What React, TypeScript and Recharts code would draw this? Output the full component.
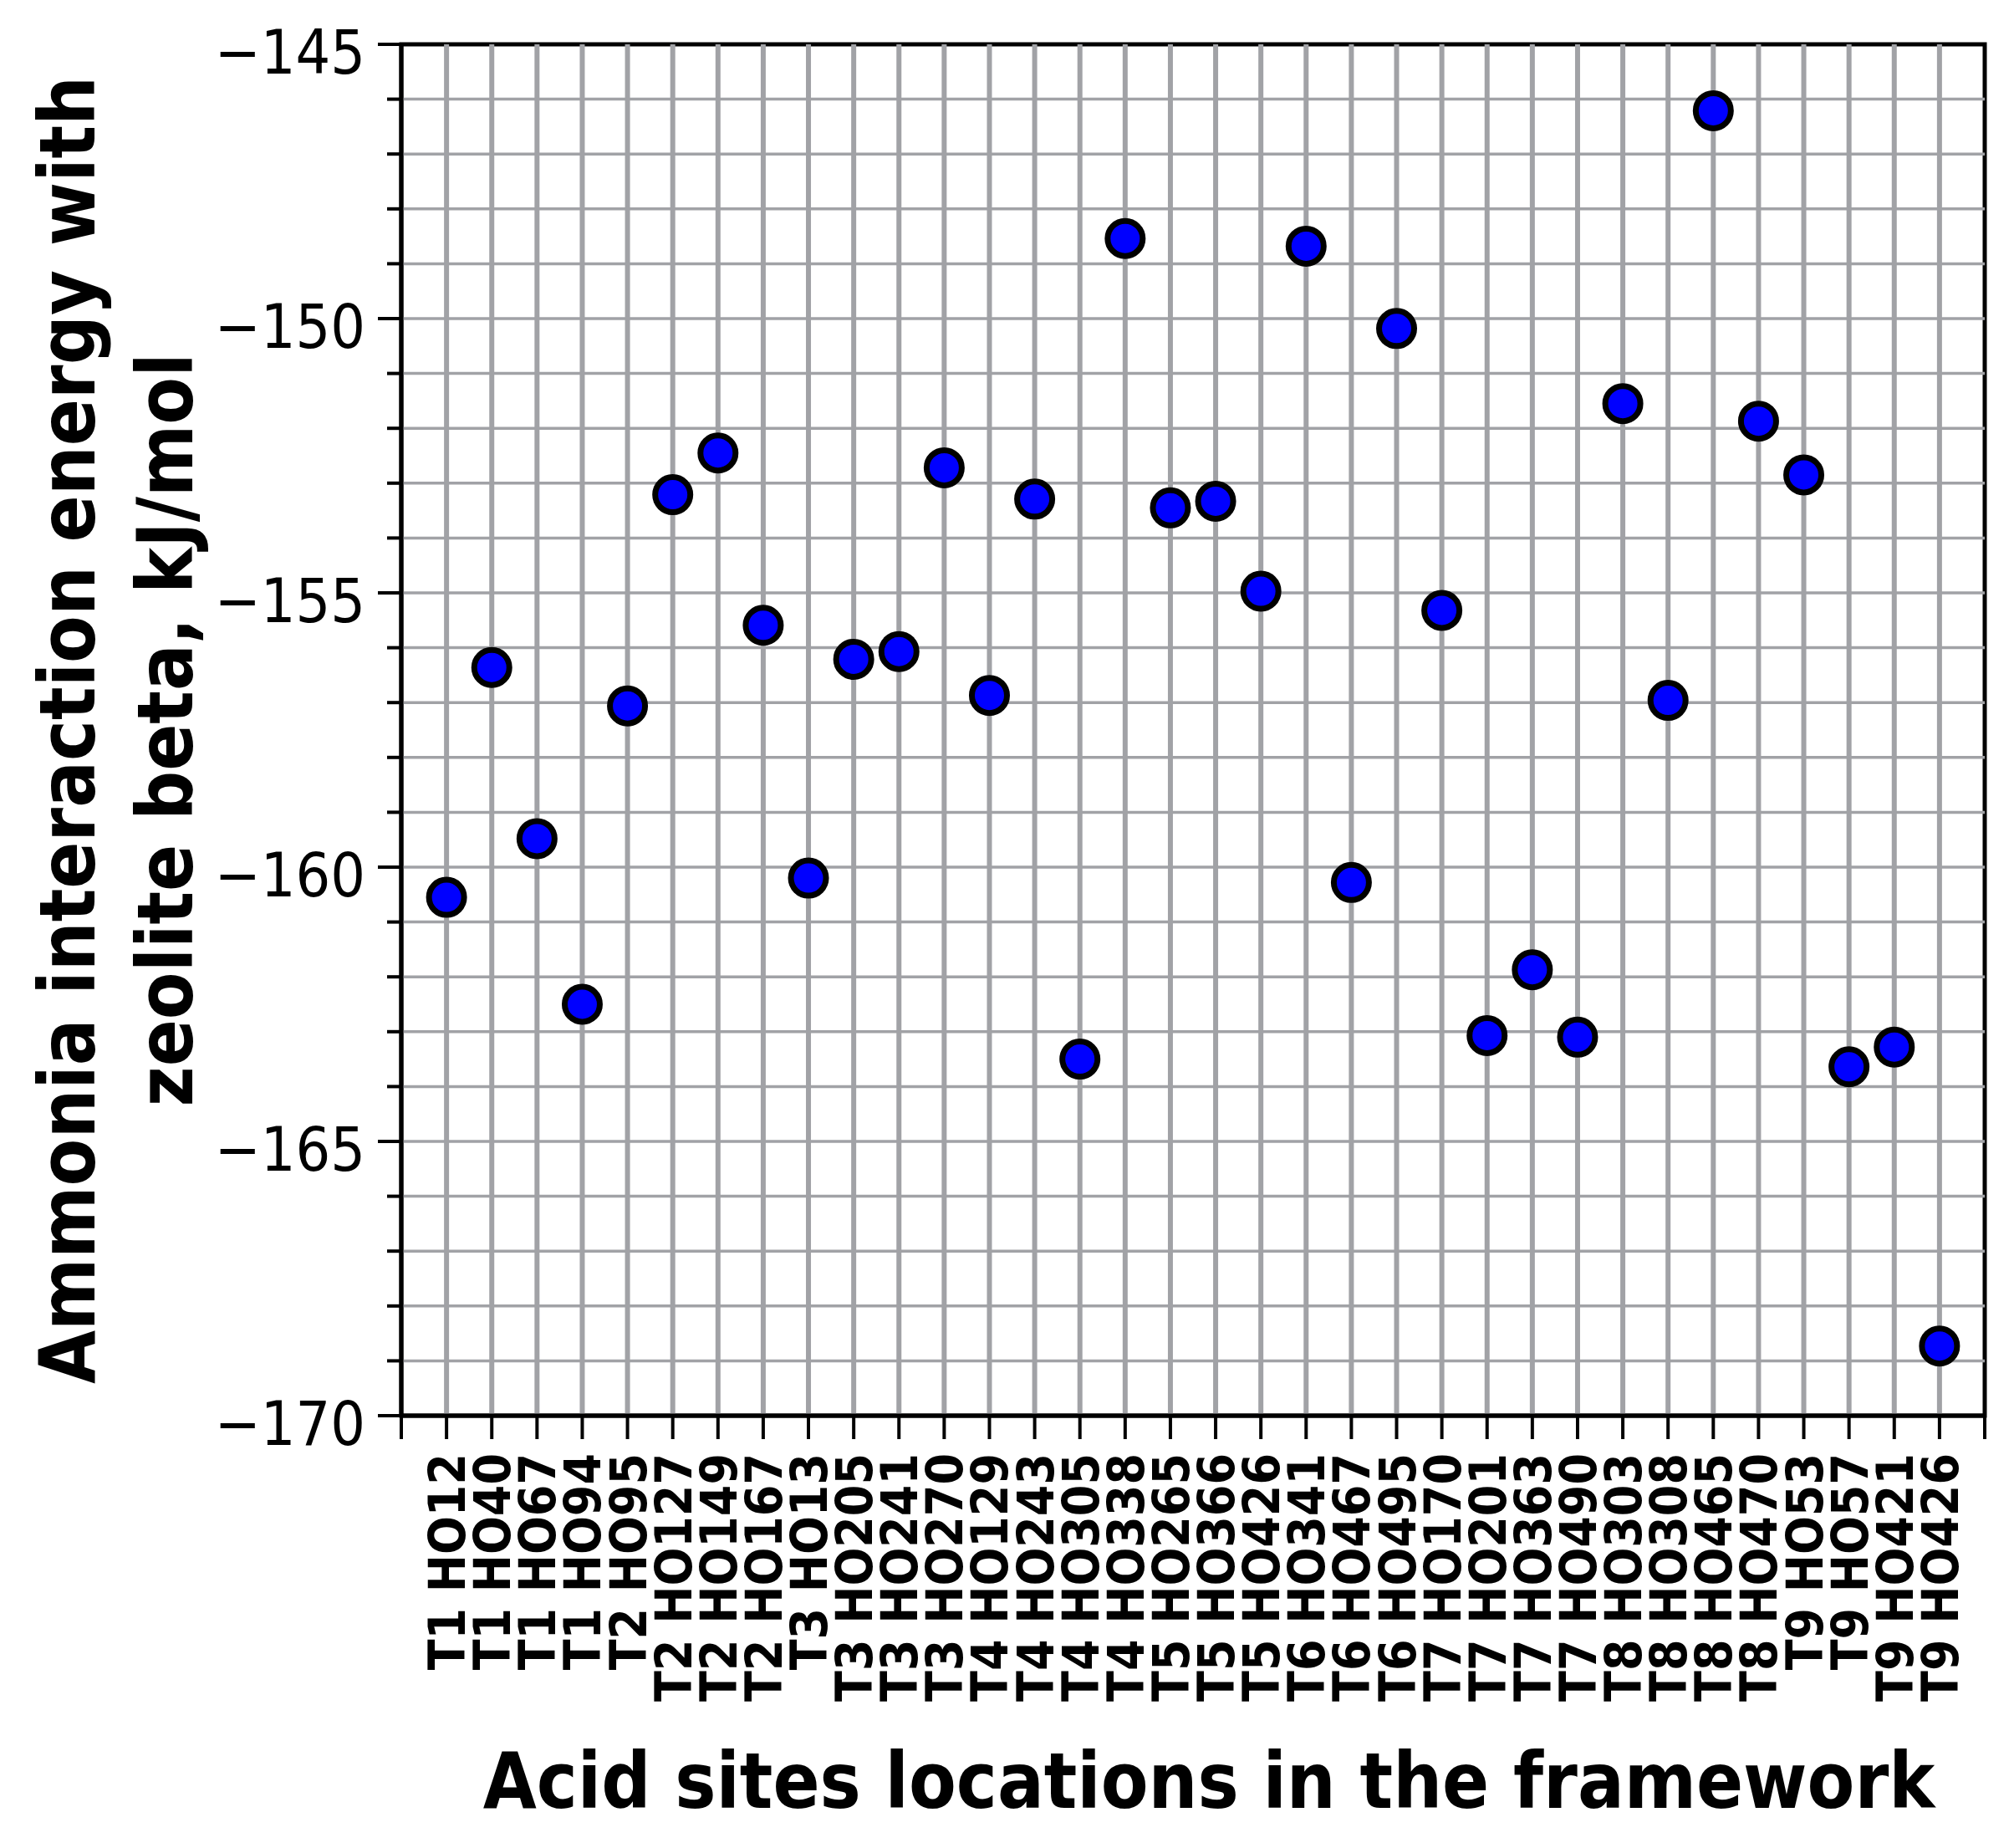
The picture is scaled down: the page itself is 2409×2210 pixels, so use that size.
import { ReferenceArea, ReferenceLine, Scatter, ScatterChart, XAxis, YAxis } from "recharts";

const sites = [
  "T1 HO12", "T1 HO40", "T1 HO67", "T1 HO94",
  "T2 HO95", "T2 HO127", "T2 HO149", "T2 HO167",
  "T3 HO13", "T3 HO205", "T3 HO241", "T3 HO270",
  "T4 HO129", "T4 HO243", "T4 HO305", "T4 HO338",
  "T5 HO265", "T5 HO366", "T5 HO426",
  "T6 HO341", "T6 HO467", "T6 HO495",
  "T7 HO170", "T7 HO201", "T7 HO363", "T7 HO490",
  "T8 HO303", "T8 HO308", "T8 HO465", "T8 HO470",
  "T9 HO53", "T9 HO57", "T9 HO421", "T9 HO426",
];

const energies = [
  -160.55, -156.36, -159.48, -162.5,
  -157.06, -153.21, -152.45, -155.59,
  -160.2, -156.21, -156.07, -152.72,
  -156.87, -153.29, -163.5, -148.54,
  -153.45, -153.33, -154.97,
  -148.68, -160.28, -150.18,
  -155.32, -163.07, -161.87, -163.1,
  -151.55, -156.96, -146.21, -151.87,
  -152.85, -163.64, -163.28, -168.73,
];

const yMin = -170;
const yMax = -145;
const yTicks = Array.from({ length: yMax - yMin + 1 }, (_, i) => yMin + i);
const xTicks = Array.from({ length: sites.length + 2 }, (_, i) => i);

const FONT = "'DejaVu Sans Condensed', 'DejaVu Sans', sans-serif";
const GRID = "#a1a2a6";

const data = sites.map((site, i) => ({ x: i + 1, y: energies[i], site }));

function XTick({ x, y, payload }: any) {
  const i = payload.value;
  const label = sites[i - 1];
  return (
    <g>
      <line x1={x} x2={x} y1={y} y2={y + 28} stroke="#000" strokeWidth={4} />
      {label ? (
        <text
          x={x + 22}
          y={y + 45}
          transform={`rotate(-90, ${x + 22}, ${y + 45})`}
          textAnchor="end"
          fontFamily={FONT}
          fontWeight="bold"
          fontSize={60}
          fill="#000"
        >
          {label}
        </text>
      ) : null}
    </g>
  );
}

function YTick({ x, y, payload }: any) {
  const v = payload.value;
  const major = v % 5 === 0;
  return (
    <g>
      <line x1={x - (major ? 28 : 17)} x2={x} y1={y} y2={y} stroke="#000" strokeWidth={4} />
      {major ? (
        <text x={x - 43} y={y + 35} textAnchor="end" fontFamily={FONT} fontSize={73} fill="#000">
          {"\u2212" + Math.abs(v)}
        </text>
      ) : null}
    </g>
  );
}

function YTitle({ viewBox }: any) {
  const cy = viewBox && viewBox.height ? viewBox.y + viewBox.height / 2 : 873;
  return (
    <g fontFamily={FONT} fontWeight="bold" fontSize={92} fill="#000">
      <text x={113} y={cy} transform={`rotate(-90, 113, ${cy})`} textAnchor="middle">
        Ammonia interaction energy with
      </text>
      <text x={230} y={cy} transform={`rotate(-90, 230, ${cy})`} textAnchor="middle">
        zeolite beta, kJ/mol
      </text>
    </g>
  );
}

function XTitle({ viewBox }: any) {
  const cx = viewBox && viewBox.width ? viewBox.x + viewBox.width / 2 + 19 : 1446;
  return (
    <text x={cx} y={2162} textAnchor="middle" fontFamily={FONT} fontWeight="bold" fontSize={92} fill="#000">
      Acid sites locations in the framework
    </text>
  );
}

function Dot({ cx, cy }: any) {
  return <circle cx={cx} cy={cy} r={21} fill="#0000ff" stroke="#000" strokeWidth={7} />;
}

export default function App() {
  return (
    <div style={{ position: "absolute", left: 0, top: 0, width: 2409, height: 2210, background: "#fff" }}>
      <ScatterChart width={2409} height={2210} margin={{ top: 53, right: 35, bottom: 117, left: 280 }}>
        <XAxis
          type="number"
          dataKey="x"
          domain={[0, sites.length + 1]}
          ticks={xTicks}
          interval={0}
          height={400}
          tickSize={0}
          tickMargin={0}
          tickLine={false}
          axisLine={{ stroke: "#000", strokeWidth: 5 }}
          tick={<XTick />}
          label={{ content: <XTitle /> }}
        />
        <YAxis
          type="number"
          dataKey="y"
          domain={[yMin, yMax]}
          ticks={yTicks}
          interval={0}
          width={200}
          tickSize={0}
          tickMargin={0}
          tickLine={false}
          axisLine={{ stroke: "#000", strokeWidth: 5 }}
          tick={<YTick />}
          label={{ content: <YTitle /> }}
        />
        {yTicks.slice(1, -1).map((v) => (
          <ReferenceLine key={`h${v}`} y={v} stroke={GRID} strokeWidth={3.5} />
        ))}
        {xTicks.slice(1, -1).map((v) => (
          <ReferenceLine key={`v${v}`} x={v} stroke={GRID} strokeWidth={6} />
        ))}
        <ReferenceArea
          x1={0}
          x2={sites.length + 1}
          y1={yMin}
          y2={yMax}
          fill="none"
          fillOpacity={0}
          stroke="#000"
          strokeWidth={5}
        />
        <Scatter data={data} shape={<Dot />} isAnimationActive={false} />
      </ScatterChart>
    </div>
  );
}
